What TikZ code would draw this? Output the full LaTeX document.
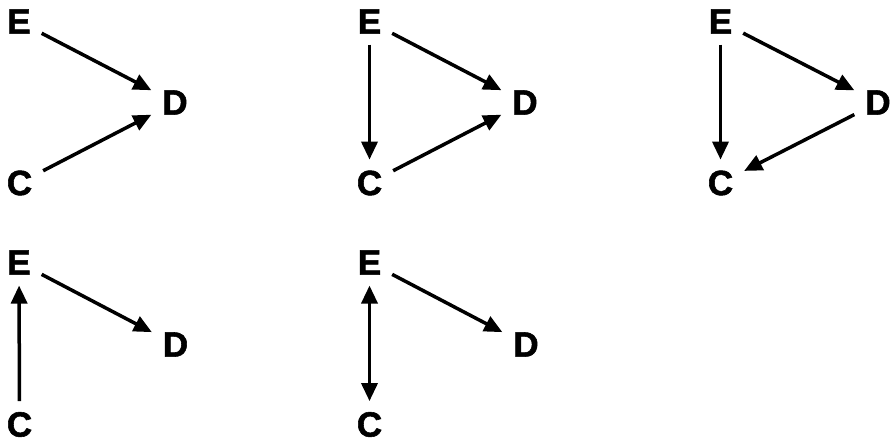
\documentclass[tikz,border=0pt]{standalone}
\usepackage{fontspec}
\setmainfont{Liberation Sans}
\newfontfamily\varfont{Liberation Sans Bold}[FakeBold=1.6]
\usetikzlibrary{arrows.meta}
\begin{document}
\begin{tikzpicture}[x=1pt,y=-1pt,
  var/.style={font=\varfont\fontsize{35}{38}\selectfont, inner sep=0pt, outer sep=11pt},
  tip/.tip={Triangle[length=18pt,width=16pt]},
  edge/.style={line width=3.5pt, -tip},
  biedge/.style={line width=3.5pt, tip-tip}]
\useasboundingbox (0,0) rectangle (891,444);

% panel 1: E -> D <- C
\node[var] (E1) at (19,21.5) {E};
\node[var] (D1) at (175,102.5) {D};
\node[var] (C1) at (19.5,183) {C};
\draw[edge] (E1) -- (D1);
\draw[edge] (C1) -- (D1);

% panel 2: E -> D, E -> C, C -> D
\node[var] (E2) at (369.5,21.5) {E};
\node[var] (D2) at (525,102.5) {D};
\node[var] (C2) at (369.5,183) {C};
\draw[edge] (E2) -- (D2);
\draw[edge] (E2) -- (C2);
\draw[edge] (C2) -- (D2);

% panel 3: E -> D, E -> C, D -> C
\node[var] (E3) at (720.5,21.5) {E};
\node[var] (D3) at (878,102.5) {D};
\node[var] (C3) at (720.5,183) {C};
\draw[edge] (E3) -- (D3);
\draw[edge] (E3) -- (C3);
\draw[edge] (D3) -- (C3);

% panel 4: C -> E -> D
\node[var] (E4) at (19,262.5) {E};
\node[var] (D4) at (175.5,344.5) {D};
\node[var] (C4) at (19.5,424.5) {C};
\draw[edge] (E4) -- (D4);
\draw[edge] (C4) -- (E4);

% panel 5: E <-> C, E -> D
\node[var] (E5) at (369.5,262.5) {E};
\node[var] (D5) at (526,344.5) {D};
\node[var] (C5) at (369.5,424.5) {C};
\draw[edge] (E5) -- (D5);
\draw[biedge] (E5) -- (C5);
\end{tikzpicture}
\end{document}
